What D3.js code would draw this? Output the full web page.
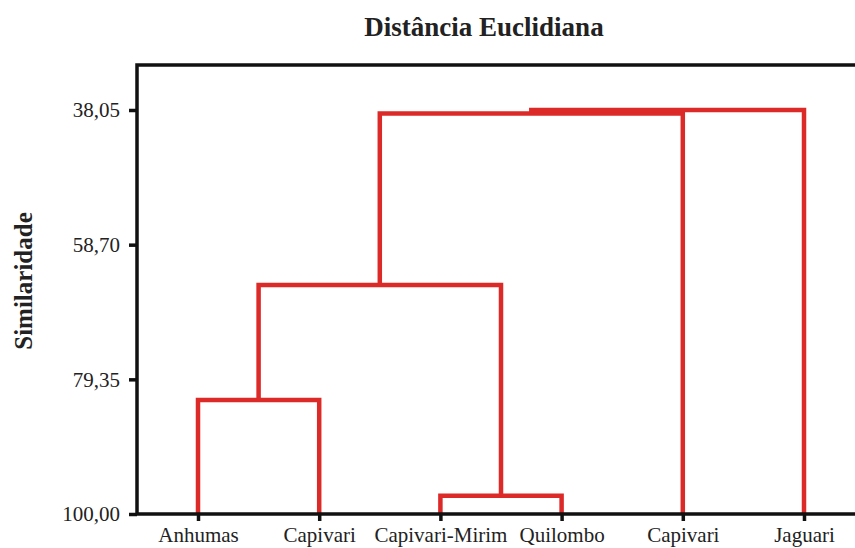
<!DOCTYPE html>
<html>
<head>
<meta charset="utf-8">
<script src="https://cdn.jsdelivr.net/npm/d3@7"></script>
<style>
  body { margin: 0; background: #fff; }
  svg { display: block; }
  text { font-family: "Liberation Serif", "Times New Roman", serif; fill: #222; }
</style>
</head>
<body>
<div id="chart"></div>
<script>
// leaves of the dendrogram, left to right
var leaves = ["Anhumas", "Capivari", "Capivari-Mirim", "Quilombo", "Capivari", "Jaguari"];
// merges: [left id, right id, similarity]; ids >= 6 point to earlier merges
var merges = [
  [2, 3, 97.2],
  [0, 1, 82.5],
  [7, 6, 64.9],
  [8, 4, 38.6],
  [9, 5, 38.05]
];
var yTicks = [38.05, 58.70, 79.35, 100.00];

var width = 855, height = 548;
var lineColor = "#dc2a28";

var svg = d3.select("#chart").append("svg")
  .attr("width", width)
  .attr("height", height);

var x = d3.scalePoint().domain(d3.range(leaves.length)).range([198, 804]);
var y = d3.scaleLinear().domain([31.15, 100]).range([65, 514]);

// x and height of every node (leaves first, then merges)
var nodeX = leaves.map(function(d, i) { return x(i); });
var nodeH = leaves.map(function() { return 100; });
merges.forEach(function(m) {
  nodeX.push((nodeX[m[0]] + nodeX[m[1]]) / 2);
  nodeH.push(m[2]);
});

// axes
var yAxis = svg.append("g")
  .attr("transform", "translate(137,0)")
  .call(d3.axisLeft(y).tickValues(yTicks)
    .tickFormat(function(d) { return d.toFixed(2).replace(".", ","); })
    .tickSize(8).tickPadding(9));
yAxis.select(".domain").remove();
yAxis.selectAll("line").attr("stroke", "#111").attr("stroke-width", 3.5);
yAxis.selectAll("text").attr("font-size", 21);

var xAxis = svg.append("g")
  .attr("transform", "translate(0,514)")
  .call(d3.axisBottom(x).tickFormat(function(i) { return leaves[i]; })
    .tickSize(7).tickPadding(6));
xAxis.select(".domain").remove();
xAxis.selectAll("line").attr("stroke", "#111").attr("stroke-width", 3.5);
xAxis.selectAll("text").attr("font-size", 21);

// dendrogram links
svg.append("g")
  .selectAll("path")
  .data(merges)
  .join("path")
  .attr("fill", "none")
  .attr("stroke", lineColor)
  .attr("stroke-width", 4.5)
  .attr("stroke-linejoin", "miter")
  .attr("d", function(m) {
    var xl = nodeX[m[0]], xr = nodeX[m[1]];
    return "M" + xl + "," + y(nodeH[m[0]]) +
      "V" + y(m[2]) + "H" + xr + "V" + y(nodeH[m[1]]);
  });

// frame (runs off the right edge like the original)
svg.append("path")
  .attr("fill", "none")
  .attr("stroke", "#111")
  .attr("stroke-width", 3.5)
  .attr("d", "M870," + y.range()[0] + "H137V" + y.range()[1] + "H870");

// titles
svg.append("text")
  .attr("x", 484).attr("y", 36)
  .attr("text-anchor", "middle")
  .attr("font-size", 27)
  .attr("font-weight", "bold")
  .text("Distância Euclidiana");

svg.append("text")
  .attr("transform", "translate(32,281) rotate(-90)")
  .attr("text-anchor", "middle")
  .attr("font-size", 25)
  .attr("font-weight", "bold")
  .text("Similaridade");
</script>
</body>
</html>
